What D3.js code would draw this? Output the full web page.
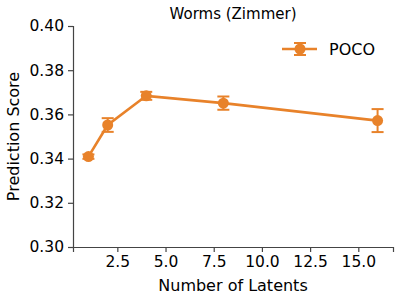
<!DOCTYPE html>
<html>
<head>
<meta charset="utf-8">
<script src="https://cdn.jsdelivr.net/npm/d3@7"></script>
<style>
	body { margin: 0; background: #fff; }
	text { font-family: "DejaVu Sans", sans-serif; fill: #000; }
</style>
</head>
<body>
<svg id="chart" width="399" height="299"></svg>
<script>
var latents = [1, 2, 4, 8, 16],
	scores = [0.3409, 0.3552, 0.3684, 0.3651, 0.3572],
	errors = [0.0010, 0.0031, 0.0018, 0.0030, 0.0052],
	xTicks = [2.5, 5.0, 7.5, 10.0, 12.5, 15.0],
	yTicks = [0.30, 0.32, 0.34, 0.36, 0.38, 0.40];

var color = '#e8822a',
	margin = {left: 73, right: 6, top: 26, bottom: 52},
	W = 399, H = 299;

var svg = d3.select('#chart');

var x = d3.scaleLinear().domain([0.2, 16.8]).range([margin.left, W - margin.right]);
var y = d3.scaleLinear().domain([0.30, 0.40]).range([H - margin.bottom, margin.top]);

// axes
var xAxis = svg.append('g')
	.attr('transform', 'translate(0,' + y(0.30) + ')')
	.call(d3.axisBottom(x).tickValues(xTicks).tickFormat(d3.format('.1f')).tickSize(5).tickPadding(4));

var yAxis = svg.append('g')
	.attr('transform', 'translate(' + x.range()[0] + ',0)')
	.call(d3.axisLeft(y).tickValues(yTicks).tickFormat(d3.format('.2f')).tickSize(5).tickPadding(4));

[xAxis, yAxis].forEach(function(g){
	g.select('.domain').attr('stroke', '#444').attr('stroke-width', 1.2);
	g.selectAll('.tick line').attr('stroke', '#444').attr('stroke-width', 1.2);
	g.selectAll('.tick text').style('font-size', '15.5px').attr('fill', '#000');
});

// labels
svg.append('text')
	.attr('x', (x.range()[0] + x.range()[1]) / 2)
	.attr('y', 291)
	.attr('text-anchor', 'middle')
	.style('font-size', '16px')
	.text('Number of Latents');

svg.append('text')
	.attr('transform', 'translate(19,' + ((y.range()[0] + y.range()[1]) / 2) + ') rotate(-90)')
	.attr('text-anchor', 'middle')
	.style('font-size', '16px')
	.text('Prediction Score');

svg.append('text')
	.attr('x', (x.range()[0] + x.range()[1]) / 2)
	.attr('y', 19)
	.attr('text-anchor', 'middle')
	.style('font-size', '15px')
	.text('Worms (Zimmer)');

// data
var pts = latents.map(function(l, i){ return {x: l, y: scores[i], e: errors[i]}; });

svg.append('path')
	.datum(pts)
	.attr('fill', 'none')
	.attr('stroke', color)
	.attr('stroke-width', 2.6)
	.attr('d', d3.line().x(function(d){ return x(d.x); }).y(function(d){ return y(d.y); }));

var bars = svg.append('g').selectAll('g')
	.data(pts)
	.enter()
	.append('g')
	.attr('stroke', color)
	.attr('stroke-width', 2);

bars.append('line')
	.attr('x1', function(d){ return x(d.x); })
	.attr('x2', function(d){ return x(d.x); })
	.attr('y1', function(d){ return y(d.y - d.e); })
	.attr('y2', function(d){ return y(d.y + d.e); });

[-1, 1].forEach(function(s){
	bars.append('line')
		.attr('x1', function(d){ return x(d.x) - 6; })
		.attr('x2', function(d){ return x(d.x) + 6; })
		.attr('y1', function(d){ return y(d.y + s * d.e); })
		.attr('y2', function(d){ return y(d.y + s * d.e); });
});

svg.append('g').selectAll('circle')
	.data(pts)
	.enter()
	.append('circle')
	.attr('cx', function(d){ return x(d.x); })
	.attr('cy', function(d){ return y(d.y); })
	.attr('r', 5.5)
	.attr('fill', color);

// legend
var lg = svg.append('g').attr('transform', 'translate(300,49)');
lg.append('line').attr('x1', -18).attr('x2', 17).attr('stroke', color).attr('stroke-width', 2.6);
lg.append('line').attr('y1', -6).attr('y2', 6).attr('stroke', color).attr('stroke-width', 2);
lg.append('line').attr('x1', -6).attr('x2', 6).attr('y1', -6).attr('y2', -6).attr('stroke', color).attr('stroke-width', 2);
lg.append('line').attr('x1', -6).attr('x2', 6).attr('y1', 6).attr('y2', 6).attr('stroke', color).attr('stroke-width', 2);
lg.append('circle').attr('r', 5.5).attr('fill', color);
lg.append('text').attr('x', 29).attr('y', 6).style('font-size', '16px').text('POCO');
</script>
</body>
</html>
